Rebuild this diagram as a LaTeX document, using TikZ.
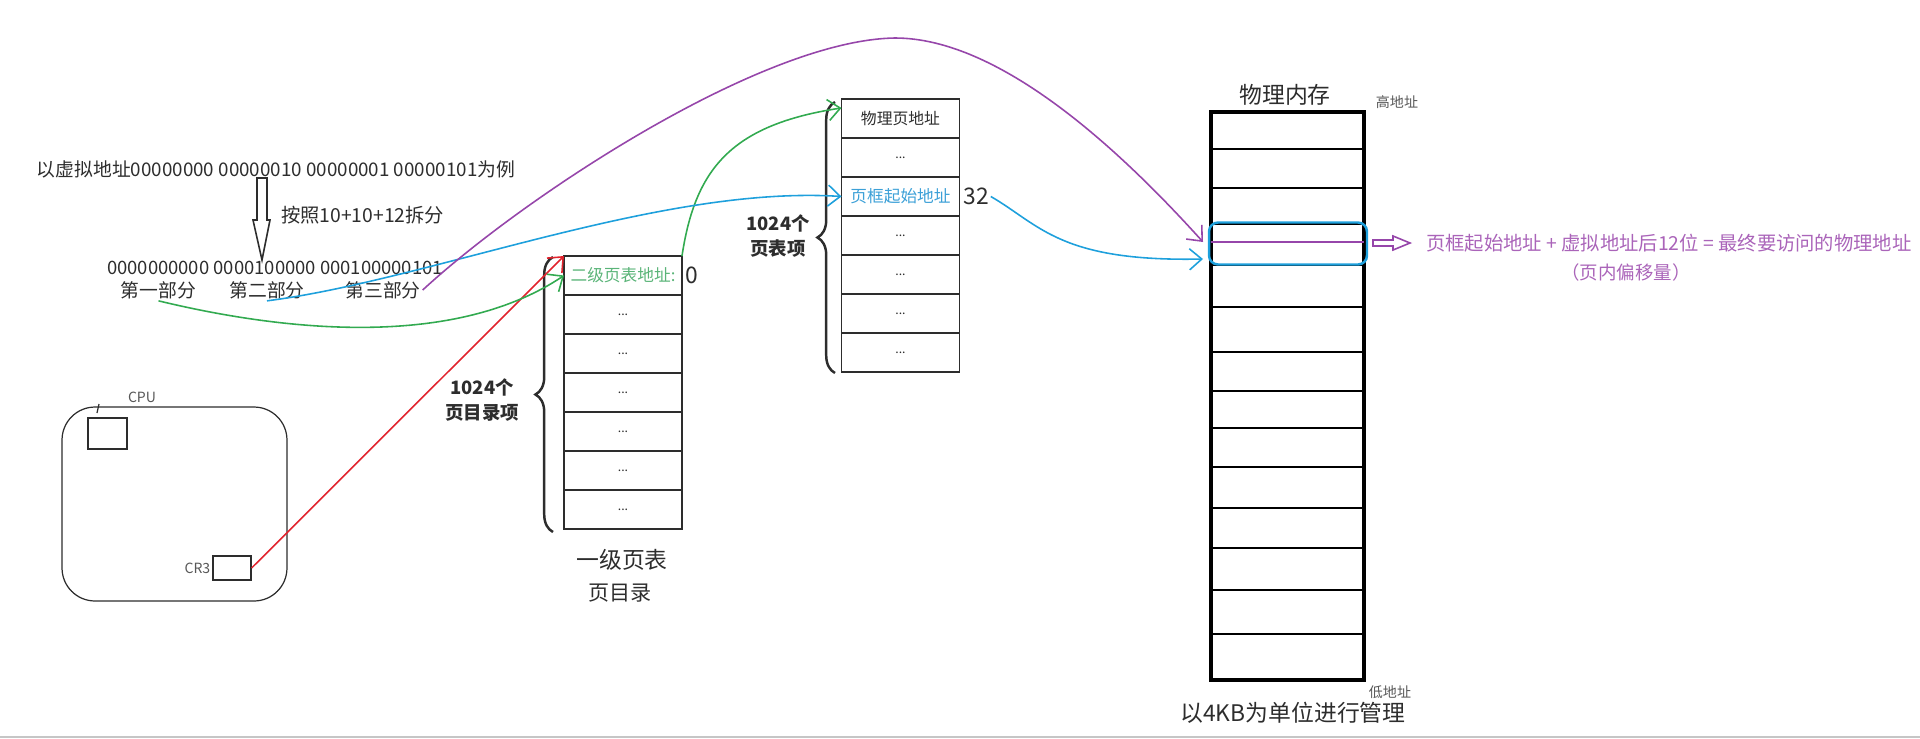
\documentclass[tikz,border=0pt]{standalone}
\usepackage{fontspec}
\setmainfont{Noto Sans CJK SC}
\usetikzlibrary{arrows.meta,positioning,decorations.pathreplacing}
\definecolor{ink}{RGB}{45,45,45}
\definecolor{grn}{RGB}{50,170,80}
\definecolor{grntxt}{RGB}{90,180,120}
\definecolor{blu}{RGB}{30,160,220}
\definecolor{blutxt}{RGB}{60,160,215}
\definecolor{pur}{RGB}{150,70,170}
\definecolor{purtxt}{RGB}{170,100,185}
\definecolor{rd}{RGB}{225,35,45}

\begin{document}
\begin{tikzpicture}[x=0.02cm,y=-0.02cm,
  txt/.style={font=\fontsize{10.7}{12}\selectfont,text=ink,inner sep=1pt},
  ttl/.style={font=\fontsize{13}{15}\selectfont,text=ink,inner sep=1pt},
  note/.style={font=\fontsize{8}{9}\selectfont,text=ink!80,inner sep=1pt},
  cell/.style={draw=ink,line width=0.8pt,minimum width=2.36cm,minimum height=0.78cm,
    inner sep=0pt,outer sep=0pt,font=\fontsize{9.5}{11}\selectfont,text=ink},
  dotcell/.style={cell,font=\fontsize{7}{8}\selectfont},
  entries/.style={font=\bfseries\fontsize{10.5}{14}\selectfont,align=center,text=ink},
  box/.style={draw=ink,line width=0.7pt,inner sep=0pt},
  arr/.style={line width=0.9pt,-{Straight Barb[length=7pt,width=12pt]}},
  brc/.style={decorate,decoration={brace,amplitude=10pt},line width=1.4pt,draw=ink}]
\useasboundingbox (0,0) rectangle (1920,738);

% virtual address and split
\node[txt] (va) at (276,169) {以虚拟地址00000000 00000010 00000001 00000101为例};
\draw[ink,line width=0.9pt] (257,178) -- (267,178) -- (267,220) -- (270,220) -- (262,260) -- (253,220) -- (257,220) -- cycle;
\node[txt,anchor=west,font=\fontsize{11}{13}\selectfont] (rule) at (279,215) {按照10+10+12拆分};
\node[txt,font=\fontsize{10.5}{12}\selectfont] (bits) at (275,268) {0000000000 0000100000 000100000101};
\node[txt] (p1) at (158.5,290) {第一部分};
\node[txt] (p2) at (267,290) {第二部分};
\node[txt] (p3) at (383,290) {第三部分};

% cpu
\node[box,rounded corners=0.66cm,minimum width=4.5cm,minimum height=3.88cm] (cpu) at (174.5,504) {};
\node[note] (cpulbl) at (142,397) {CPU};
\node[box,minimum width=0.78cm,minimum height=0.62cm] (reg) at (107.5,433.5) {};
\draw[ink,line width=0.7pt] (97,413) -- (99,404);
\node[box,minimum width=0.76cm,minimum height=0.48cm] (cr3) at (232,568) {};
\node[note,left=0pt of cr3] (cr3lbl) {CR3};

% page directory
\node[cell,text=grntxt] (d1) at (623,275.5) {二级页表地址:};
\foreach \i [remember=\i as \p (initially 1)] in {2,...,7}
  \node[dotcell,below=0pt of d\p] (d\i) {...};
\node[ttl,right=1pt of d1] (zero) {0};
\draw[brc] (553,532) -- (553,257);
\node[entries] (n1) at (482,400) {1024个\\页目录项};
\node[ttl] (l1) at (622,560) {一级页表};
\node[ttl,font=\fontsize{12}{14}\selectfont] (l2) at (620,593) {页目录};

% page table
\node[cell,font=\fontsize{9}{11}\selectfont] (t1) at (900.5,118.5) {物理页地址};
\node[dotcell,below=0pt of t1] (t2) {...};
\node[cell,text=blutxt,below=0pt of t2] (t3) {页框起始地址};
\foreach \i [remember=\i as \p (initially 3)] in {4,...,7}
  \node[dotcell,below=0pt of t\p] (t\i) {...};
\node[ttl,right=1pt of t3] (tt) {32};
\draw[brc] (835,373) -- (835,102);
\node[entries] (n2) at (778,236) {1024个\\页表项};

% physical memory
\node[draw=black,line width=1.8pt,minimum width=3.06cm,minimum height=11.36cm,inner sep=0pt] (mem) at (1287.5,396) {};
\foreach \y in {149,188,224,265,307,352,391,428,467,508,548,590,634}
  \draw[black,line width=1.1pt] (1211,\y) -- (1364,\y);
\node[draw=blu,line width=1.4pt,rounded corners=0.18cm,minimum width=3.16cm,minimum height=0.84cm] (frame) at (1288,243.5) {};
\draw[pur,line width=1pt] (1211,242) -- (1364,242);
\node[ttl] (memlbl) at (1285,95) {物理内存};
\node[note] (hi) at (1397,102) {高地址};
\node[note] (lo) at (1390,692) {低地址};
\node[ttl] (unit) at (1293,713) {以4KB为单位进行管理};

% result
\draw[pur,line width=0.9pt] (1373,240) -- (1393,240) -- (1393,236) -- (1410,243) -- (1393,250) -- (1393,246) -- (1373,246) -- cycle;
\node[anchor=west,text=purtxt,font=\fontsize{11}{13}\selectfont] (sum) at (1420,243) {页框起始地址 + 虚拟地址后12位 = 最终要访问的物理地址};
\node[text=purtxt,font=\fontsize{10.5}{12}\selectfont] (off) at (1626,272) {（页内偏移量）};

% connectors
\coordinate (pin) at (1203,242);
\coordinate (bin) at (1203,259);
\draw[arr,rd] (cr3.east) -- (d1.north west);
\draw[arr,grn] (p1.south) .. controls (300,335) and (460,345) .. (d1.west);
\draw[arr,grn] (d1.north east) .. controls (695,170) and (730,125) .. ([yshift=6pt]t1.west);
\draw[arr,blu] (p2.south) .. controls (430,280) and (660,185) .. (t3.west);
\draw[arr,blu] (tt.east) .. controls (1040,225) and (1060,262) .. (bin);
\draw[arr,pur] (p3.east) .. controls (520,200) and (760,40) .. (895,38) .. controls (1000,38) and (1120,150) .. (pin);

\draw[gray!45,line width=1pt] (0,737) -- (1920,737);
\end{tikzpicture}
\end{document}
